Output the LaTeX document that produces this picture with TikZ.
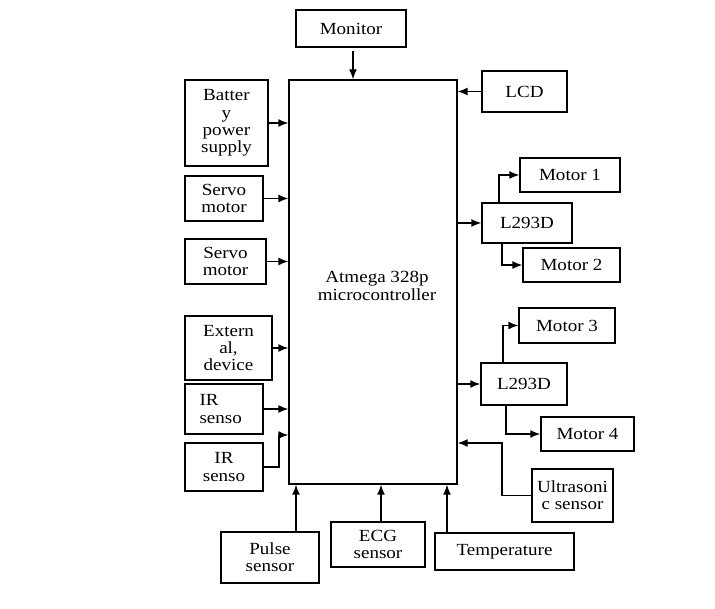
\documentclass[tikz,border=0pt]{standalone}
\usepackage{fontspec}
\setmainfont{Liberation Serif}[FakeStretch=1.12]
\usetikzlibrary{arrows.meta}
\begin{document}
\begin{tikzpicture}[x=1pt,y=-1pt,
  txt/.style={font=\fontsize{17}{17.2}\selectfont},
  blk/.style={txt,draw,line width=1.4pt,inner sep=0pt,align=center},
  arr/.style={line width=1.4pt,-{Latex[length=10pt,width=8pt]}}]
\useasboundingbox[fill=white] (0,0) rectangle (715,609);
% blocks
\node[blk,minimum width=168pt,minimum height=404pt] (main) at (373,282) {};
\node[txt,align=center] (maintxt) at (377,286) {Atmega 328p\\microcontroller};
\node[blk,minimum width=110pt,minimum height=37pt] (mon) at (351,28.5) {Monitor};
\node[blk,minimum width=83pt,minimum height=86pt] (bat) at (226.5,123) {Batter\\y\\power\\supply};
\node[blk,minimum width=78pt,minimum height=45pt] (sv1) at (224,198.5) {Servo\\motor};
\node[blk,minimum width=81pt,minimum height=45pt] (sv2) at (225.5,261.5) {Servo\\motor};
\node[blk,minimum width=87pt,minimum height=64pt] (ext) at (228.5,348) {Extern\\al,\\device};
\node[blk,minimum width=78pt,minimum height=50pt] (ir1) at (224,409) {};
\node[txt,align=left,anchor=west] (ir1txt) at (196,409) {IR\\senso};
\node[blk,minimum width=78pt,minimum height=48pt] (ir2) at (224,467) {IR\\senso};
\node[blk,minimum width=98pt,minimum height=51pt] (pul) at (270,557.5) {Pulse\\sensor};
\node[blk,minimum width=94pt,minimum height=45pt] (ecg) at (378,544.5) {ECG\\sensor};
\node[blk,minimum width=139pt,minimum height=37pt] (tmp) at (504.5,551.5) {Temperature};
\node[blk,minimum width=81pt,minimum height=53pt] (us) at (572.5,495.5) {Ultrasoni\\c sensor};
\node[blk,minimum width=85pt,minimum height=41pt] (lcd) at (524.5,91.5) {LCD};
\node[blk,minimum width=90pt,minimum height=40pt] (l1) at (527,223) {L293D};
\node[blk,minimum width=100pt,minimum height=34pt] (m1) at (570,175) {Motor 1};
\node[blk,minimum width=97pt,minimum height=34pt] (m2) at (571.5,265) {Motor 2};
\node[blk,minimum width=86pt,minimum height=42pt] (l2) at (524,384) {L293D};
\node[blk,minimum width=96pt,minimum height=35pt] (m3) at (567,325.5) {Motor 3};
\node[blk,minimum width=93pt,minimum height=34pt] (m4) at (587.5,434) {Motor 4};
% helper coordinates
\coordinate (irk) at (279,435);
\coordinate (usk) at (502,443);
\coordinate (pa) at (296,532);
\coordinate (ea) at (381,522);
\coordinate (ta) at (447,533);
\coordinate (ma) at (353,51);
% connectors
\draw[arr] (ma) -- (ma |- main.north);
\draw[arr] (bat.east) -- (main.west |- bat.east);
\draw[arr] (sv1.east) -- (main.west |- sv1.east);
\draw[arr] (sv2.east) -- (main.west |- sv2.east);
\draw[arr] (ext.east) -- (main.west |- ext.east);
\draw[arr] (ir1.east) -- (main.west |- ir1.east);
\draw[arr] (ir2.east) -| (irk) -- (main.west |- irk);
\draw[arr] (pa) -- (pa |- main.south);
\draw[arr] (ea) -- (ea |- main.south);
\draw[arr] (ta) -- (ta |- main.south);
\draw[arr] (us.west) -| (usk) -- (main.east |- usk);
\draw[arr] (lcd.west) -- (main.east |- lcd.west);
\draw[arr] (main.east |- l1.west) -- (l1.west);
\draw[arr] (main.east |- l2.west) -- (l2.west);
\draw[arr] ([xshift=-28pt]l1.north) |- (m1.west);
\draw[arr] ([xshift=-25pt]l1.south) |- (m2.west);
\draw[arr] ([xshift=-21pt]l2.north) |- (m3.west);
\draw[arr] ([xshift=-18pt]l2.south) |- (m4.west);
\end{tikzpicture}
\end{document}
